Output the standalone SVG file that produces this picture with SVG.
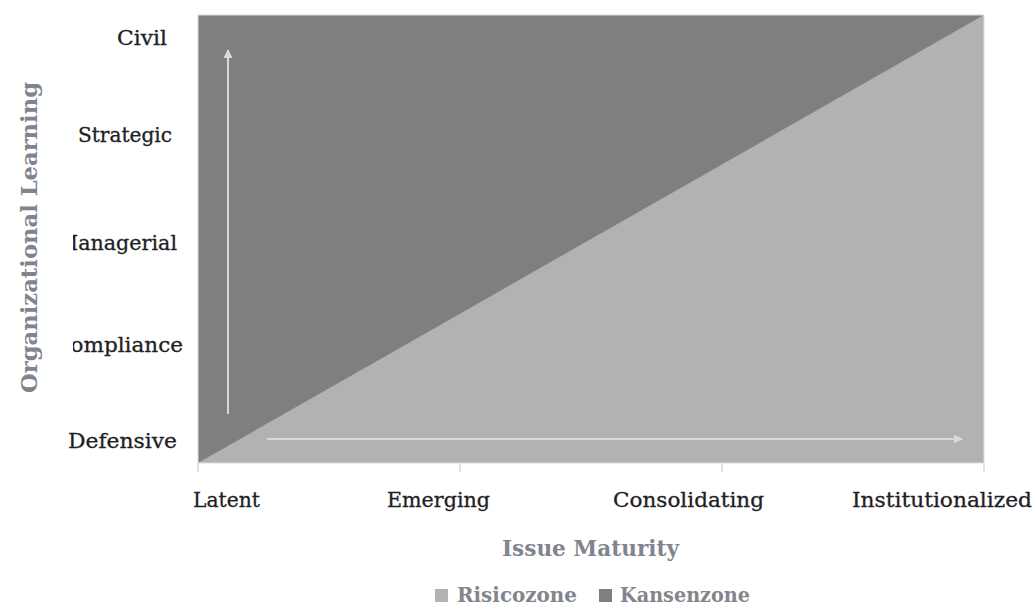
<svg xmlns="http://www.w3.org/2000/svg" width="1036" height="606" viewBox="0 0 1036 606">
  <style>
    .tick-label { font-family: "DejaVu Serif", "Liberation Serif", serif; font-size: 20.5px; fill: #1e1e24; stroke: #1e1e24; stroke-width: 0.3px; }
    .axis-title { font-family: "DejaVu Serif", "Liberation Serif", serif; font-size: 22px; font-weight: bold; fill: #80848f; }
    .legend-text { font-family: "DejaVu Serif", "Liberation Serif", serif; font-size: 19.5px; font-weight: bold; fill: #84858b; }
    .tick { stroke: #d9d9d9; stroke-width: 1.5; }
    .guide { stroke: #d9d9d9; stroke-width: 2; fill: none; }
  </style>
  <defs>
    <marker id="arrow" markerWidth="9" markerHeight="9" refX="8" refY="4.5" orient="auto" markerUnits="userSpaceOnUse" viewBox="0 0 9 9">
      <path d="M0,0 L9,4.5 L0,9 Z" fill="#d9d9d9"/>
    </marker>
    <clipPath id="labelClip">
      <rect x="73" y="0" width="963" height="606"/>
    </clipPath>
  </defs>

  <rect width="1036" height="606" fill="#ffffff"/>

  <!-- plot area: opportunity zone (dark) and risk zone (light triangle) -->
  <g id="plot">
    <rect id="kansenzone" x="198" y="15" width="786" height="448" fill="#7f7f7f"/>
    <polygon id="risicozone" points="198,463 984,15 984,463" fill="#b2b2b2"/>
    <rect x="198" y="15" width="786" height="448" fill="none" stroke="#dedede" stroke-width="1"/>
  </g>

  <!-- axis ticks -->
  <g id="ticks">
    <line class="tick" x1="198" y1="463" x2="198" y2="472"/>
    <line class="tick" x1="460" y1="463" x2="460" y2="472"/>
    <line class="tick" x1="722" y1="463" x2="722" y2="472"/>
    <line class="tick" x1="984" y1="463" x2="984" y2="472"/>
  </g>

  <!-- direction arrows -->
  <g id="connectors">
    <line class="guide" x1="228" y1="414" x2="228" y2="50" marker-end="url(#arrow)"/>
    <line class="guide" x1="267" y1="439" x2="962" y2="439" marker-end="url(#arrow)"/>
  </g>

  <!-- vertical category labels -->
  <g id="y-labels">
    <text class="tick-label" x="117" y="45" textLength="50" lengthAdjust="spacingAndGlyphs">Civil</text>
    <text class="tick-label" x="78" y="142" textLength="94" lengthAdjust="spacingAndGlyphs">Strategic</text>
    <g clip-path="url(#labelClip)">
      <text class="tick-label" x="57" y="250" textLength="120" lengthAdjust="spacingAndGlyphs">Managerial</text>
      <text class="tick-label" x="54" y="352" textLength="129" lengthAdjust="spacingAndGlyphs">Compliance</text>
    </g>
    <text class="tick-label" x="68" y="448" textLength="109" lengthAdjust="spacingAndGlyphs">Defensive</text>
  </g>

  <!-- horizontal category labels -->
  <g id="x-labels">
    <text class="tick-label" x="193" y="507" textLength="67" lengthAdjust="spacingAndGlyphs">Latent</text>
    <text class="tick-label" x="387" y="507" textLength="103" lengthAdjust="spacingAndGlyphs">Emerging</text>
    <text class="tick-label" x="613" y="507" textLength="151" lengthAdjust="spacingAndGlyphs">Consolidating</text>
    <text class="tick-label" x="852" y="507" textLength="180" lengthAdjust="spacingAndGlyphs">Institutionalized</text>
  </g>

  <!-- axis titles -->
  <g id="axis-titles">
    <text class="axis-title" x="502" y="556" textLength="177" lengthAdjust="spacingAndGlyphs">Issue Maturity</text>
    <text class="axis-title" transform="translate(37,393) rotate(-90)" x="0" y="0" textLength="311" lengthAdjust="spacingAndGlyphs">Organizational Learning</text>
  </g>

  <!-- legend -->
  <g id="legend">
    <rect x="435" y="589" width="13" height="13" fill="#b2b2b2"/>
    <text class="legend-text" x="457" y="602" textLength="120" lengthAdjust="spacingAndGlyphs">Risicozone</text>
    <rect x="599" y="589" width="13" height="13" fill="#7f7f7f"/>
    <text class="legend-text" x="620" y="602" textLength="130" lengthAdjust="spacingAndGlyphs">Kansenzone</text>
  </g>
</svg>
